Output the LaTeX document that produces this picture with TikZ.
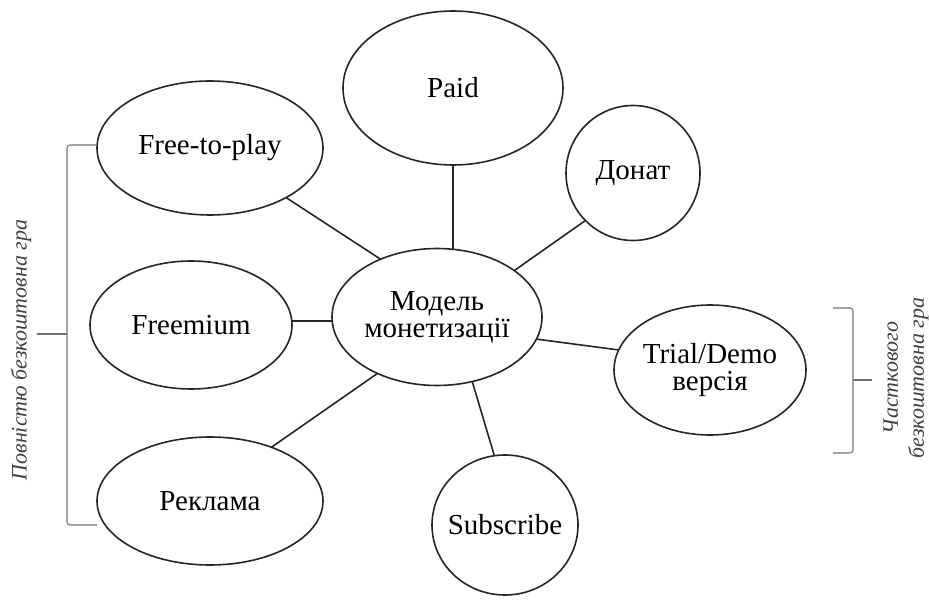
\documentclass[tikz,border=0pt]{standalone}
\usepackage{fontspec}
\setmainfont{Liberation Serif}
\usetikzlibrary{shapes.geometric,backgrounds,calc}
\begin{document}
\begin{tikzpicture}[x=1pt,y=-1pt,
  ell/.style={ellipse, draw=black!85, line width=1.6pt, fill=white, inner sep=0pt},
  etext/.style={font=\fontsize{29}{27}\selectfont, align=center, text=black},
  conn/.style={draw=black!85, line width=1.6pt},
  brk/.style={draw=black!55, line width=1.1pt, rounded corners=3pt},
  side/.style={font=\fontsize{22}{26}\selectfont\itshape, align=center, text=black!75, rotate=90, inner sep=0pt}]
\useasboundingbox (0,0) rectangle (929,601);
\node[ell, minimum width=210pt, minimum height=137pt] (c) at (437,317) {};
\node[ell, minimum width=220pt, minimum height=154pt] (paid) at (453,88) {};
\node[ell, minimum width=226pt, minimum height=134pt] (f2p) at (210,148) {};
\node[ell, minimum width=134pt, minimum height=135pt] (don) at (633,173) {};
\node[ell, minimum width=202pt, minimum height=128pt] (frm) at (191,325) {};
\node[ell, minimum width=192pt, minimum height=130pt] (trial) at (710,370) {};
\node[ell, minimum width=226pt, minimum height=128pt] (rek) at (210,501) {};
\node[ell, minimum width=146pt, minimum height=140pt] (sub) at (505,525) {};
\begin{scope}[on background layer]
\draw[conn] (paid.center) -- (paid.center |- c.center);
\draw[conn] (f2p.center) -- ($(c.center)+(0,-21)$);
\draw[conn] ($(don.center)+(0,14)$) -- ($(c.center)+(0,8)$);
\draw[conn] ($(frm.center)+(0,-4)$) -- ($(c.center)+(0,4)$);
\draw[conn] ($(trial.center)+(0,-8)$) -- ($(c.center)+(0,9)$);
\draw[conn] ($(rek.center)+(0,-11)$) -- ($(c.center)+(0,15)$);
\draw[conn] ($(sub.center)+(10,0)$) -- ($(c.center)+(16,0)$);
\end{scope}
\node[etext] (tc) at (c) {Модель\\монетизації};
\node[etext] (tpaid) at (paid) {Paid};
\node[etext] (tf2p) at (f2p) {Free-to-play};
\node[etext] (tdon) at (don) {Донат};
\node[etext] (tfrm) at (frm) {Freemium};
\node[etext] (ttrial) at (trial) {Trial/Demo\\версія};
\node[etext] (trek) at (rek) {Реклама};
\node[etext] (tsub) at (sub) {Subscribe};
% left bracket
\coordinate (lt) at (97,145);
\coordinate (lb) at (97,525);
\coordinate (lm) at (37,334);
\draw[brk] (lt) -- (67,145) -- (67,525) -- (lb);
\draw[brk] (67,334) -- (lm);
\node[side] (lab1) at (21,350) {Повністю безкоштовна гра};
% right bracket
\coordinate (rt) at (833,308);
\coordinate (rb) at (833,453);
\coordinate (rm) at (872,380);
\draw[brk] (rt) -- (853,308) -- (853,453) -- (rb);
\draw[brk] (853,380) -- (rm);
\node[side] (lab2) at (906,378) {Часткового\\безкоштовна гра};
\end{tikzpicture}
\end{document}
